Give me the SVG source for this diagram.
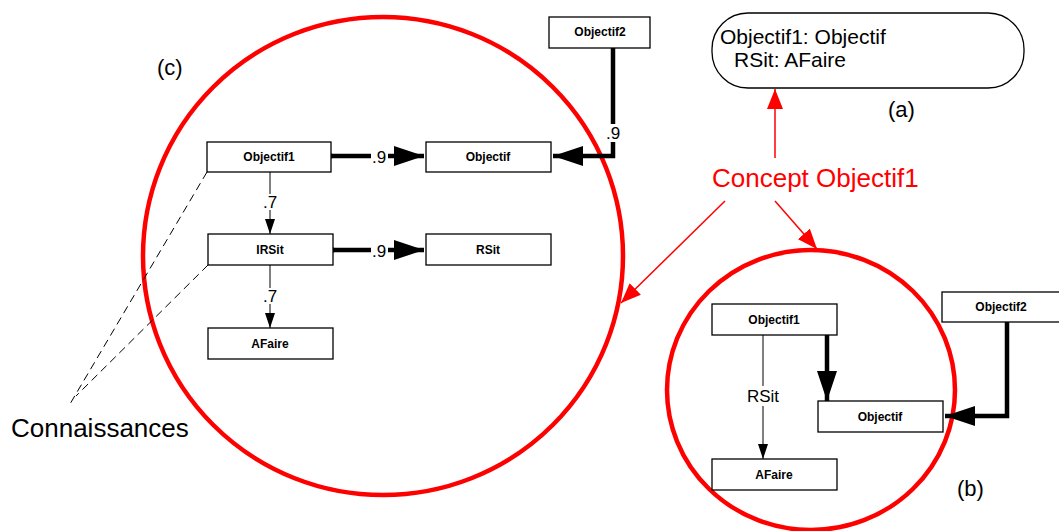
<svg xmlns="http://www.w3.org/2000/svg" width="1059" height="531" viewBox="0 0 1059 531">
<style>
.box{fill:#fff;stroke:#000;stroke-width:1.3}
.nl{font-family:"Liberation Sans",Arial,sans-serif;font-weight:bold;font-size:12px;text-anchor:middle}
.lbl{font-family:"Liberation Sans",Arial,sans-serif;font-size:17px;text-anchor:middle}
.big{font-family:"Liberation Sans",Arial,sans-serif;font-size:22px}
.thick{fill:none;stroke:#000;stroke-width:4.5}
.thin{fill:none;stroke:#000;stroke-width:1}
.red{fill:none;stroke:#f00;stroke-width:1.5}
.ring{fill:none;stroke:#f00;stroke-width:4.5}
</style>
<defs>
<marker id="ah" markerUnits="userSpaceOnUse" markerWidth="30" markerHeight="20" refX="30" refY="10" orient="auto"><path d="M0,0 L30,10 L0,20 z" fill="#000"/></marker>
<marker id="as" markerUnits="userSpaceOnUse" markerWidth="15" markerHeight="10" refX="15" refY="5" orient="auto"><path d="M0,0 L15,5 L0,10 z" fill="#000"/></marker>
<marker id="ar" markerUnits="userSpaceOnUse" markerWidth="20" markerHeight="16" refX="20" refY="8" orient="auto"><path d="M0,0 L20,8 L0,16 z" fill="#f00"/></marker>
</defs>
<rect width="1059" height="531" fill="#fff"/>
<ellipse class="ring" cx="383" cy="256" rx="240" ry="239"/>
<ellipse class="ring" cx="811" cy="390" rx="144" ry="140"/>
<g id="connectors">
<path class="thick" d="M331,156 H424" marker-end="url(#ah)"/>
<circle cx="331" cy="156" r="2.5"/>
<path class="thick" d="M613,48 V156 H553" marker-end="url(#ah)"/>
<path class="thin" d="M270,172 V234" marker-end="url(#as)"/>
<path class="thick" d="M333,250 H424" marker-end="url(#ah)"/>
<circle cx="333" cy="250" r="2.5"/>
<path class="thin" d="M270,265 V328" marker-end="url(#as)"/>
<path class="thin" d="M207,172 L70,404" stroke-dasharray="8,5"/>
<path class="thin" d="M208,265 L76,396" stroke-dasharray="8,5"/>
<path class="thin" d="M763,335 V459" marker-end="url(#as)"/>
<path class="thick" d="M827,334 V401" marker-end="url(#ah)"/>
<path class="thick" d="M1007,322 V416 H945" marker-end="url(#ah)"/>
<path class="red" d="M775,158 V89" marker-end="url(#ar)"/>
<path class="red" d="M725,201 L621,303" marker-end="url(#ar)"/>
<path class="red" d="M775,201 L817,249" marker-end="url(#ar)"/>
<rect x="371" y="148" width="17" height="17" fill="#fff"/>
<text class="lbl" x="379" y="163">.9</text>
<rect x="371" y="242" width="17" height="17" fill="#fff"/>
<text class="lbl" x="379" y="257">.9</text>
<rect x="604" y="124" width="18" height="18" fill="#fff"/>
<text class="lbl" x="613" y="139">.9</text>
<rect x="262" y="194" width="16" height="16" fill="#fff"/>
<text class="lbl" x="270" y="208">.7</text>
<rect x="262" y="288" width="16" height="16" fill="#fff"/>
<text class="lbl" x="270" y="302">.7</text>
<rect x="744" y="386" width="38" height="20" fill="#fff"/>
<text class="lbl" x="763" y="402">RSit</text>
</g>
<g id="c-objectif2"><rect class="box" x="549" y="17" width="101" height="31"/><text class="nl" x="600" y="36">Objectif2</text></g>
<g id="c-objectif1"><rect class="box" x="207" y="142" width="124" height="30"/><text class="nl" x="269" y="161">Objectif1</text></g>
<g id="c-objectif"><rect class="box" x="426" y="142" width="125" height="30"/><text class="nl" x="488" y="161">Objectif</text></g>
<g id="c-irsit"><rect class="box" x="208" y="234" width="125" height="31"/><text class="nl" x="270" y="254">IRSit</text></g>
<g id="c-rsit"><rect class="box" x="426" y="234" width="125" height="31"/><text class="nl" x="488" y="254">RSit</text></g>
<g id="c-afaire"><rect class="box" x="208" y="328" width="125" height="31"/><text class="nl" x="270" y="348">AFaire</text></g>
<g id="b-objectif1"><rect class="box" x="712" y="304" width="125" height="31"/><text class="nl" x="774" y="324">Objectif1</text></g>
<g id="b-objectif"><rect class="box" x="818" y="401" width="125" height="31"/><text class="nl" x="880" y="421">Objectif</text></g>
<g id="b-afaire"><rect class="box" x="712" y="459" width="125" height="31"/><text class="nl" x="774" y="479">AFaire</text></g>
<g id="b-objectif2"><rect class="box" x="942" y="292" width="122" height="30"/><text class="nl" x="1001" y="311">Objectif2</text></g>
<g id="a-concept"><rect x="712" y="13" width="312" height="75" rx="36" ry="36" fill="#fff" stroke="#000" stroke-width="1.3"/>
<text x="720" y="44" font-family="Liberation Sans, Arial, sans-serif" font-size="21">Objectif1: Objectif</text>
<text x="734" y="67" font-family="Liberation Sans, Arial, sans-serif" font-size="21">RSit: AFaire</text></g>
<text class="big" x="888" y="117">(a)</text>
<text class="big" x="957" y="496">(b)</text>
<text class="big" x="157" y="75">(c)</text>
<text x="712" y="187" font-family="Liberation Sans, Arial, sans-serif" font-size="26" fill="#f00">Concept Objectif1</text>
<text x="11" y="437" font-family="Liberation Sans, Arial, sans-serif" font-size="26">Connaissances</text>
</svg>
